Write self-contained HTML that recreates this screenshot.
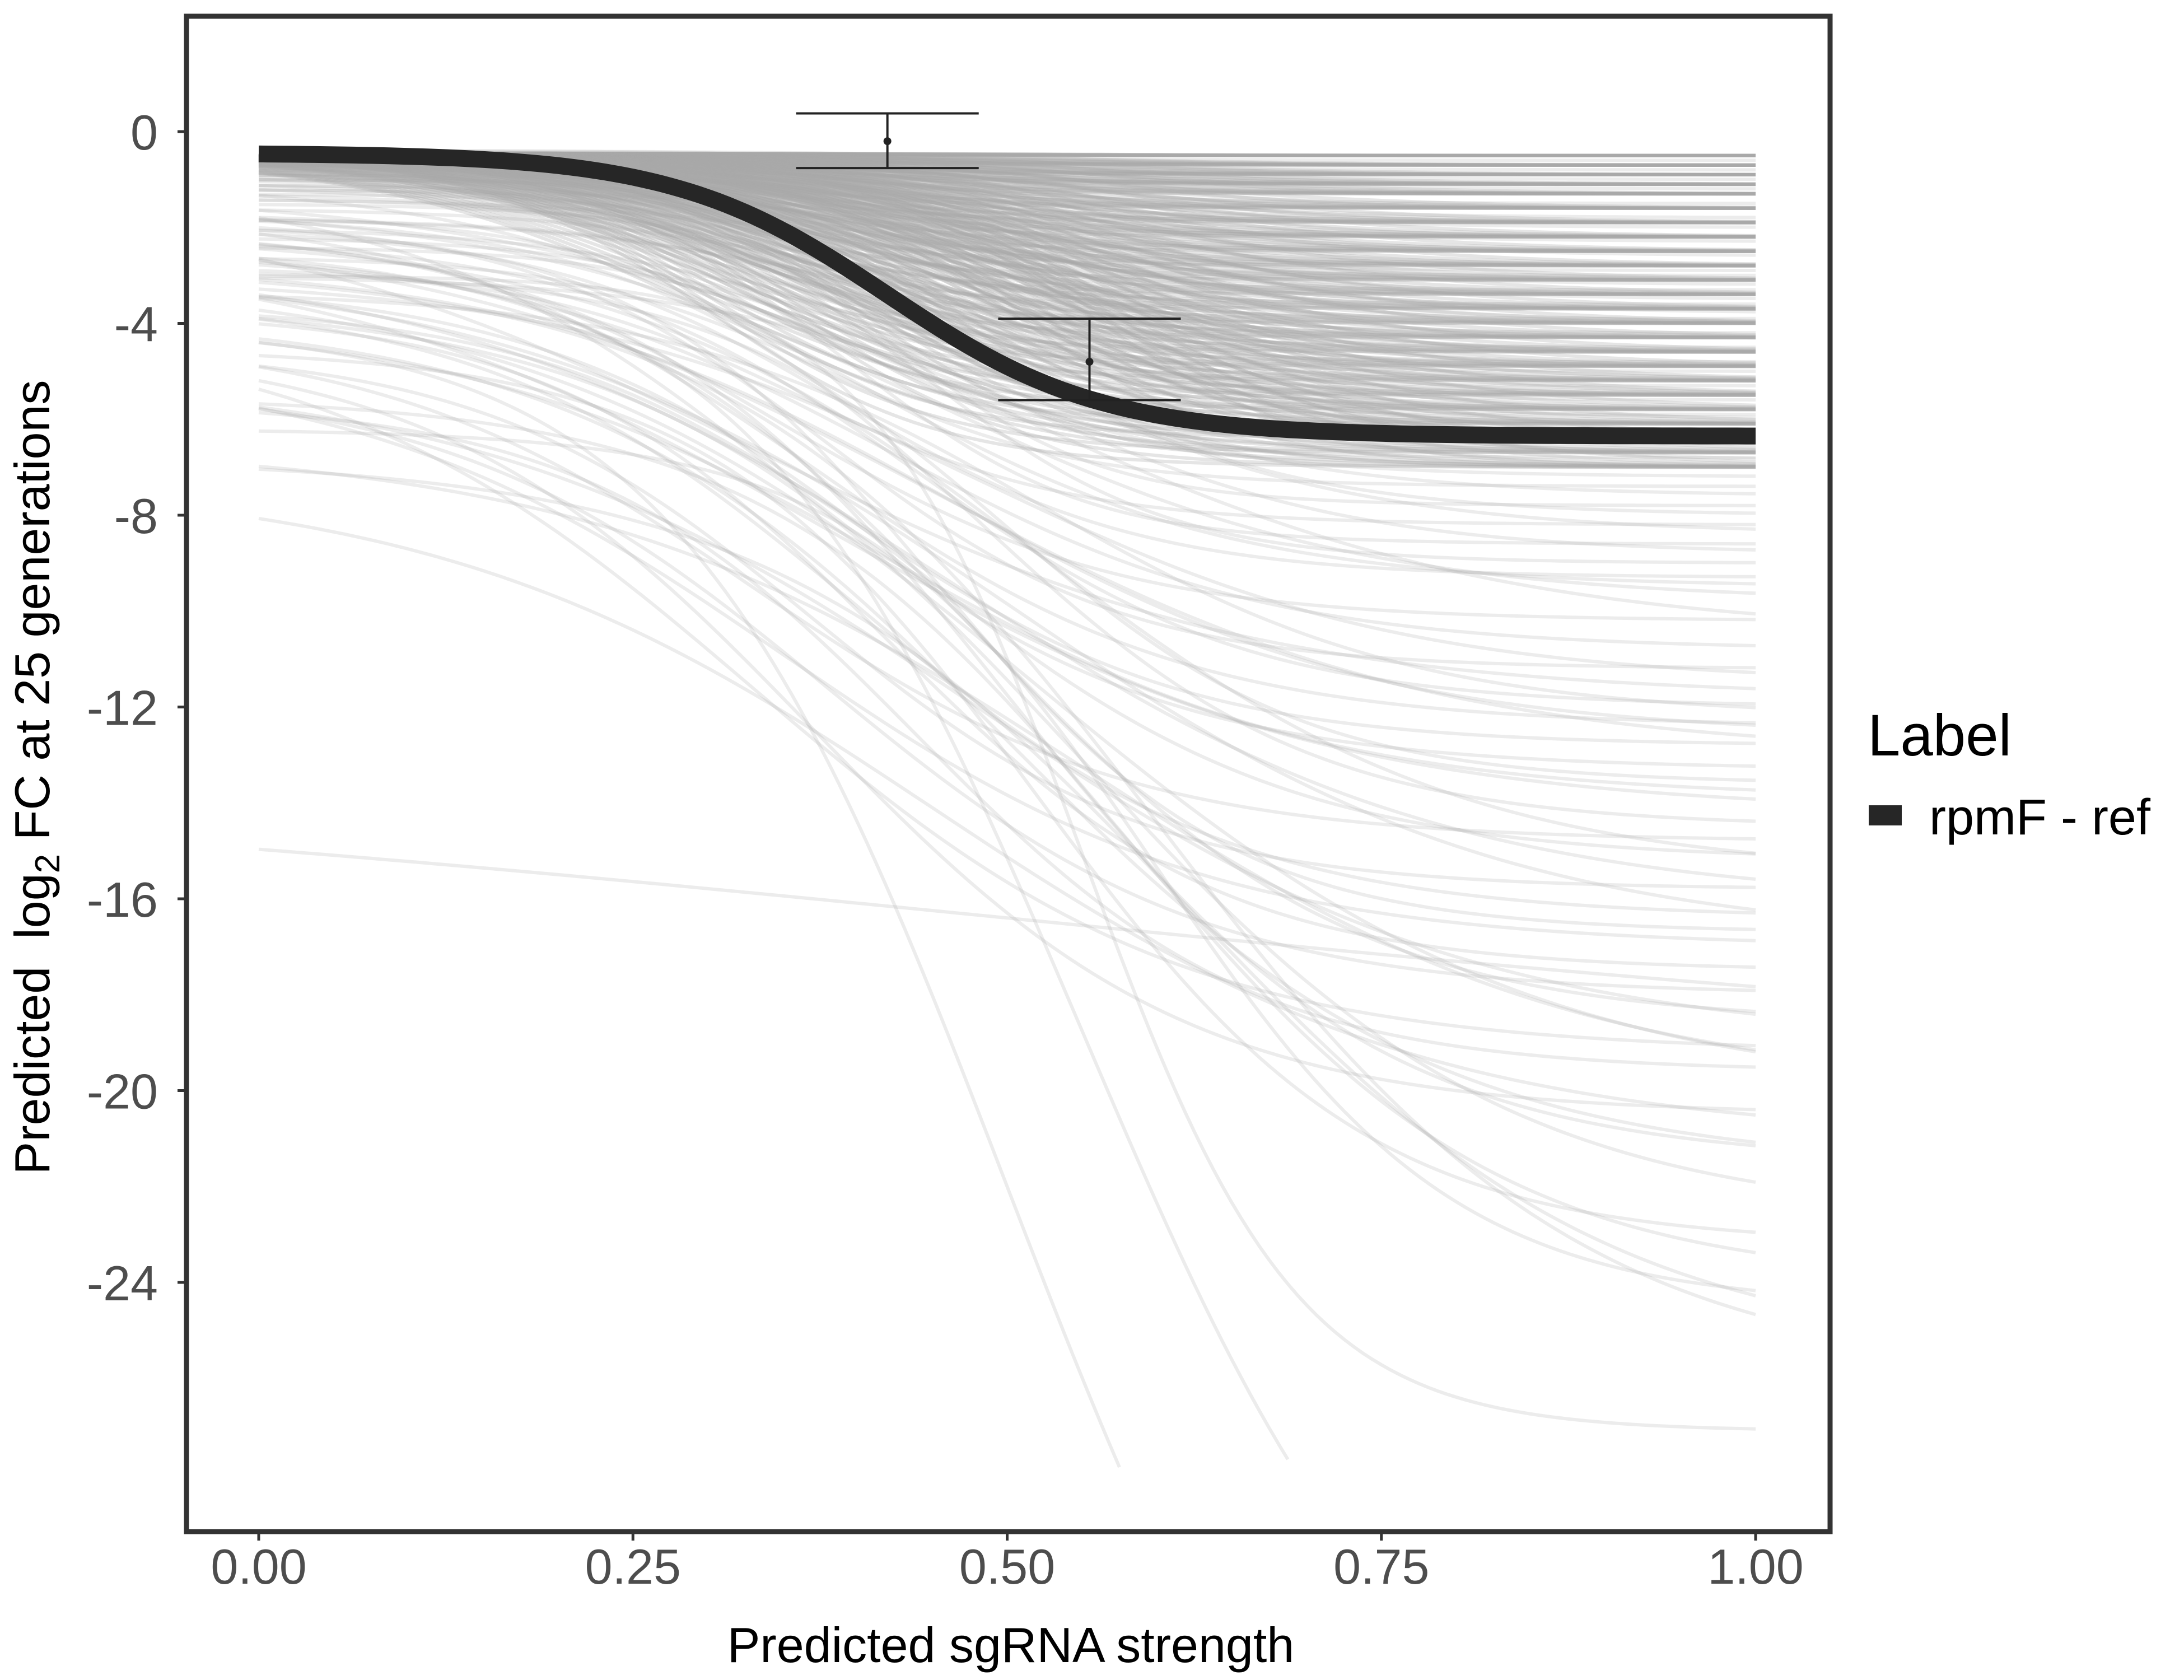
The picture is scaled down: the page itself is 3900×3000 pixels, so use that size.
<!DOCTYPE html>
<html><head><meta charset="utf-8"><style>
html,body{margin:0;padding:0;background:#fff;}
svg{display:block;font-family:"Liberation Sans",sans-serif;}
</style></head><body>
<svg id="chart" width="3900" height="3000" viewBox="0 0 3900 3000" xmlns="http://www.w3.org/2000/svg">
<rect x="0" y="0" width="3900" height="3000" fill="#fff"/>
<g id="bg-lines"></g>
<g id="main"></g>
<g id="axes"></g>
<rect x="333" y="29" width="2935" height="2706" fill="none" stroke="#333" stroke-width="9"/>
<text x="1805" y="2968" font-size="88" text-anchor="middle" fill="#000">Predicted sgRNA strength</text>
<text transform="translate(88,1388) rotate(-90)" font-size="88" text-anchor="middle" fill="#000">Predicted&#160; log<tspan font-size="62" dy="18">2</tspan><tspan dy="-18"> FC at 25 generations</tspan></text>
<text x="3335" y="1349" font-size="105" fill="#000">Label</text>
<g>
<rect x="3337" y="1438" width="59" height="36" fill="#262626"/>
<text x="3445" y="1490" font-size="90" fill="#000">rpmF - ref</text>
</g>
</svg>
<script>
const xTicks=[0,0.25,0.5,0.75,1];
const xTickLabels=["0.00","0.25","0.50","0.75","1.00"];
const yTicks=[0,-4,-8,-12,-16,-20,-24];
const yTickLabels=["0","-4","-8","-12","-16","-20","-24"];
const bandStart=-0.45;
const bandEnds=[-0.5,-0.7,-0.9,-1.1,-1.3,-1.6,-1.9,-2.2,-2.5,-2.8,-3.1,-3.4,-3.7,-4.0,-4.3,-4.6,-4.9,-5.2,-5.5,-5.8,-6.1,-6.4,-6.7,-7.0];
const bandMids=[0.30,0.35,0.40,0.45,0.50,0.55];
const bandKs=[9,13];
const bgStart=[-0.4,-0.5,-0.4,-0.6,-0.5,-0.7,-0.4,-0.8,-0.5,-0.6,-1.0,-0.5,-0.7,-0.9,-0.4,-1.2,-0.6,-0.8,-0.5,-1.4,-0.7,-0.5,-1.0,-0.6,-1.6,-0.8,-0.5,-1.1,-0.7,-1.8,-0.6,-0.9,-1.3,-0.5,-2.0,-0.8,-1.1,-0.6,-1.5,-0.9,-2.2,-0.7,-1.2,-0.5,-1.7,-1.0,-2.4,-0.8,-1.4,-0.6,-2.6,-1.1,-0.9,-1.8,-2.8,-0.7,-1.3,-3.0,-1.0,-2.0,
-1.0,-1.5,-2.0,-1.2,-2.5,-1.8,-3.0,-1.4,-2.2,-3.3,-1.6,-2.7,-3.6,-2.0,-1.1,-2.9,-3.9,-2.4,-1.7,-4.2,-3.1,-2.1,-4.5,-2.6,-3.4,-1.9,-4.8,-2.8,-3.7,-5.2,-2.3,-4.0,-5.6,-3.0,-4.4,
-2.0,-3.5,-4.5,-5.5,-6.2,-6.8,-7.2,-3.0,-4.0,-2.5,-5.0,-6.5,-3.8,-13.3,-2.8];
const bgEnd=[-0.5,-0.6,-0.7,-0.8,-0.9,-1.0,-1.1,-1.2,-1.3,-1.5,-1.6,-1.8,-1.9,-2.0,-2.2,-2.3,-2.5,-2.6,-2.8,-2.9,-3.0,-3.2,-3.3,-3.5,-3.6,-3.8,-3.9,-4.0,-4.2,-4.3,-4.5,-4.6,-4.8,-4.9,-5.0,-5.2,-5.3,-5.5,-5.6,-5.8,-5.9,-6.0,-6.2,-6.3,-6.5,-6.6,-6.8,-6.9,-7.0,-7.2,-7.4,-7.6,-7.8,-8.0,-8.2,-8.4,-8.6,-8.8,-9.0,-9.3,
-9.5,-9.8,-10.2,-10.5,-10.8,-11.2,-11.5,-11.8,-12.0,-12.2,-12.4,-12.6,-12.8,-13.0,-13.3,-13.6,-13.9,-14.2,-14.5,-14.8,-15.2,-15.5,-15.8,-16.1,-16.4,-16.7,-17.0,-16.9,-17.5,-18.0,-18.6,-19.2,-19.6,-20.1,-20.5,
-21.5,-22.7,-23.2,-24.0,-24.5,-25.5,-21.0,-27.1,-40,-35,-19.0,-20.0,-21.6,-19.5,-26];
const bgMid=[0.38,0.45,0.42,0.50,0.36,0.47,0.40,0.52,0.44,0.39,0.38,0.45,0.42,0.50,0.36,0.47,0.40,0.52,0.44,0.39,0.38,0.45,0.42,0.50,0.36,0.47,0.40,0.52,0.44,0.39,0.38,0.45,0.42,0.50,0.36,0.47,0.40,0.52,0.44,0.39,0.38,0.45,0.42,0.50,0.36,0.47,0.40,0.52,0.44,0.39,0.38,0.45,0.42,0.50,0.36,0.47,0.40,0.52,0.44,0.39,
0.40,0.45,0.35,0.50,0.42,0.38,0.48,0.33,0.44,0.52,0.37,0.46,0.40,0.45,0.35,0.50,0.42,0.38,0.48,0.33,0.44,0.52,0.37,0.46,0.40,0.45,0.35,0.50,0.42,0.38,0.48,0.33,0.44,0.52,0.37,
0.50,0.55,0.52,0.58,0.60,0.62,0.45,0.55,0.50,0.55,0.48,0.55,0.50,0.5,0.60];
const bgK=[12,9,14,10,11,8,13,9,12,10,12,9,14,10,11,8,13,9,12,10,12,9,14,10,11,8,13,9,12,10,12,9,14,10,11,8,13,9,12,10,12,9,14,10,11,8,13,9,12,10,12,9,14,10,11,8,13,9,12,10,
8,7,9,6,8,10,7,6,9,8,8,7,9,6,8,10,7,6,9,8,8,7,9,6,8,10,7,6,9,8,8,7,9,6,8,
8,7,9,8,10,7,6,14,9,9,6,6,7,2,7];
const mainStart=-0.45, mainEnd=-6.35, mainMid=0.42, mainK=14;
const errX=[0.42,0.555], errY=[-0.2,-4.8], errHi=[0.38,-3.9], errLo=[-0.76,-5.6];

const NS="http://www.w3.org/2000/svg";
const X0=462,X1=3135,Y0=235,YPU=(2290-235)/24;
const sx=v=>X0+v*(X1-X0);
const sy=v=>Y0-v*YPU;
const logi=(s,e,m,k,x)=>s+(e-s)/(1+Math.exp(-k*(x-m)));
function curve(s,e,m,k){let d="";for(let i=0;i<=160;i++){const x=i/160;const y=logi(s,e,m,k,x);if(y<-28)break;d+=(i?"L":"M")+sx(x).toFixed(1)+","+sy(y).toFixed(1);}return d;}
const bg=document.getElementById('bg-lines');
function addBg(s,e,m,k,op){
const p=document.createElementNS(NS,'path');
p.setAttribute('d',curve(s,e,m,k));
p.setAttribute('fill','none');p.setAttribute('stroke','#a8a8a8');p.setAttribute('stroke-opacity',op);p.setAttribute('stroke-width','6');


bg.appendChild(p);}
for(let i=0;i<bgStart.length;i++) addBg(bgStart[i],bgEnd[i],bgMid[i],bgK[i],'0.22');
bandEnds.forEach(e=>bandMids.forEach(m=>bandKs.forEach(k=>addBg(bandStart,e,m,k,'0.3'))));
const mg=document.getElementById('main');
const mp=document.createElementNS(NS,'path');
mp.setAttribute('d',curve(mainStart,mainEnd,mainMid,mainK));
mp.setAttribute('fill','none');mp.setAttribute('stroke','#262626');mp.setAttribute('stroke-width','30');


mg.appendChild(mp);
for(let i=0;i<errX.length;i++){
const g=document.createElementNS(NS,'g');


const x=sx(errX[i]),hw=(X1-X0)*0.061;
g.innerHTML=`<line x1="${x}" x2="${x}" y1="${sy(errHi[i])}" y2="${sy(errLo[i])}" stroke="#222" stroke-width="4"/>
<line x1="${x-hw}" x2="${x+hw}" y1="${sy(errHi[i])}" y2="${sy(errHi[i])}" stroke="#222" stroke-width="4"/>
<line x1="${x-hw}" x2="${x+hw}" y1="${sy(errLo[i])}" y2="${sy(errLo[i])}" stroke="#222" stroke-width="4"/>
<circle cx="${x}" cy="${sy(errY[i])}" r="7" fill="#222"/>`;
mg.appendChild(g);}
const ax=document.getElementById('axes');
xTicks.forEach((v,i)=>{
const l=document.createElementNS(NS,'line');
l.setAttribute('x1',sx(v));l.setAttribute('x2',sx(v));l.setAttribute('y1',2739);l.setAttribute('y2',2751);l.setAttribute('stroke','#333');l.setAttribute('stroke-width','5');


ax.appendChild(l);
const t=document.createElementNS(NS,'text');
t.setAttribute('x',sx(v));t.setAttribute('y',2828);t.setAttribute('font-size','88');t.setAttribute('text-anchor','middle');t.setAttribute('fill','#4d4d4d');
t.textContent=xTickLabels[i];


ax.appendChild(t);});
yTicks.forEach((v,i)=>{
const l=document.createElementNS(NS,'line');
l.setAttribute('x1',317);l.setAttribute('x2',329);l.setAttribute('y1',sy(v));l.setAttribute('y2',sy(v));l.setAttribute('stroke','#333');l.setAttribute('stroke-width','5');


ax.appendChild(l);
const t=document.createElementNS(NS,'text');
t.setAttribute('x',282);t.setAttribute('y',sy(v)+32);t.setAttribute('font-size','88');t.setAttribute('text-anchor','end');t.setAttribute('fill','#4d4d4d');
t.textContent=yTickLabels[i];


ax.appendChild(t);});
</script>
</body></html>
